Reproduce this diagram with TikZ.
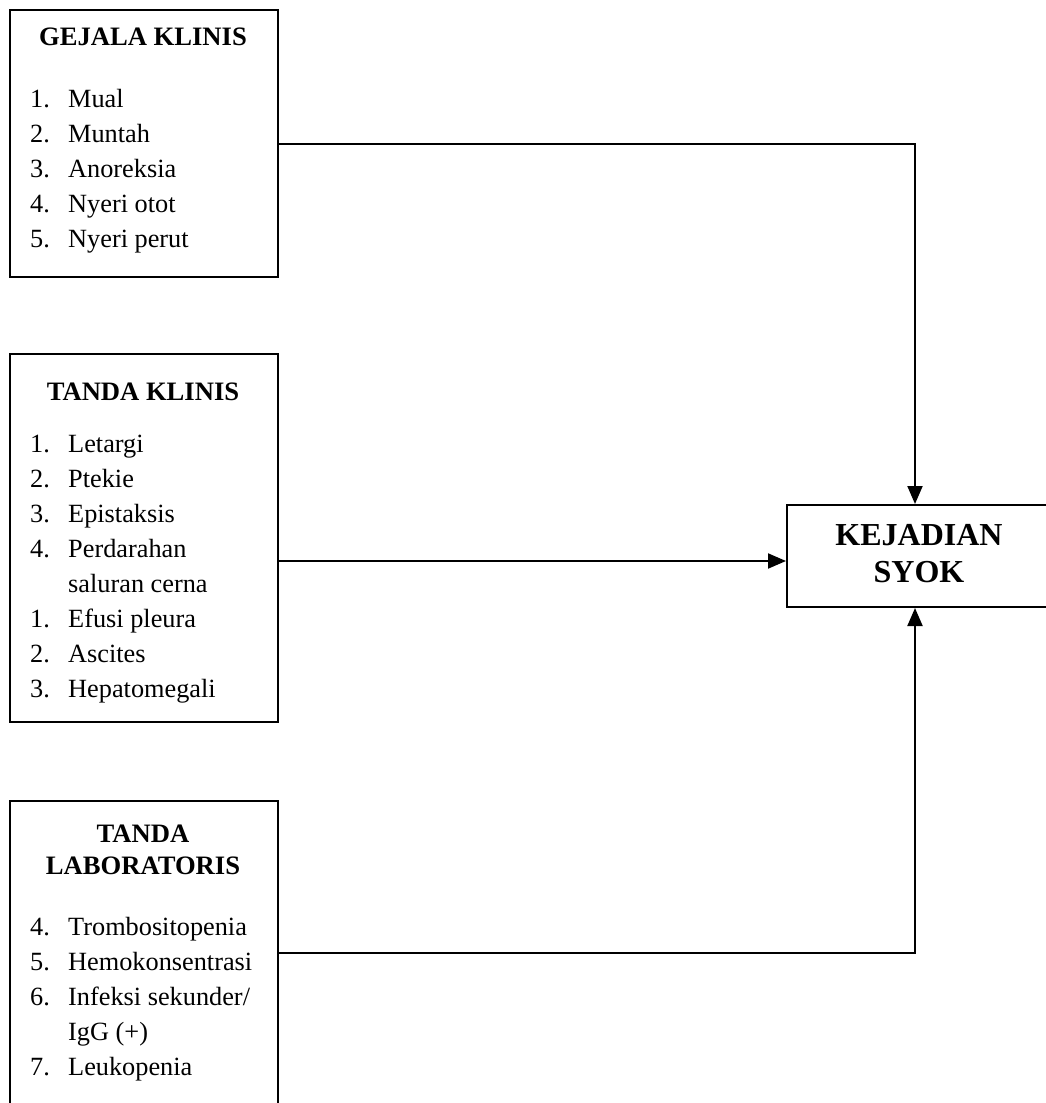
\documentclass[tikz,border=0pt]{standalone}
\usepackage{fontspec}
\setmainfont{Liberation Serif}
\usetikzlibrary{arrows.meta,calc}
\begin{document}
\begin{tikzpicture}[x=1pt,y=-1pt,
  box/.style={draw,line width=2pt,inner sep=0pt,anchor=north west},
  conn/.style={line width=2pt,-{Triangle[length=18pt,width=15pt]}},
  txt/.style={inner sep=0pt,anchor=base west,font=\fontsize{26.3}{34}\selectfont},
  head/.style={inner sep=0pt,anchor=base,font=\fontsize{26.6}{34}\selectfont\bfseries},
  big/.style={inner sep=0pt,anchor=base,font=\fontsize{32}{38}\selectfont\bfseries}]
\useasboundingbox[fill=white] (0,0) rectangle (1046,1103);
% boxes
\node[box,minimum width=268pt,minimum height=267pt] (g) at (9,9) {};
\node[box,minimum width=268pt,minimum height=368pt] (t) at (9,353) {};
\node[box,minimum width=268pt,minimum height=330pt] (l) at (9,800) {};
\node[box,minimum width=272pt,minimum height=102pt] (k) at (786,504) {};
% box 1
\node[head] (gh) at (143,45) {GEJALA KLINIS};
\foreach \n/\t [count=\i] in {1./Mual,2./Muntah,3./Anoreksia,4./Nyeri otot,5./Nyeri perut}{
  \node[txt] (gn\i) at (30,{107+35*(\i-1)}) {\n};
  \node[txt] (gi\i) at (68,{107+35*(\i-1)}) {\t};
}
% box 2
\node[head] (th) at (143,400) {TANDA KLINIS};
\foreach \n/\t [count=\i] in {1./Letargi,2./Ptekie,3./Epistaksis,4./Perdarahan,{}/saluran cerna,1./Efusi pleura,2./Ascites,3./Hepatomegali}{
  \node[txt] (tn\i) at (30,{452+35*(\i-1)}) {\n};
  \node[txt] (ti\i) at (68,{452+35*(\i-1)}) {\t};
}
% box 3
\node[head] (lh1) at (143,842) {TANDA};
\node[head] (lh2) at (143,874) {LABORATORIS};
\node[txt] (ln1) at (30,935) {4.};
\node[txt] (li1) at (68,935) {Trombositopenia};
\node[txt] (ln2) at (30,970) {5.};
\node[txt] (li2) at (68,970) {Hemokonsentrasi};
\node[txt] (ln3) at (30,1005) {6.};
\node[txt] (li3) at (68,1005) {Infeksi sekunder/};
\node[txt] (li4) at (68,1040) {IgG (+)};
\node[txt] (ln5) at (30,1075) {7.};
\node[txt] (li5) at (68,1075) {Leukopenia};
% outcome
\node[big] (k1) at (919,545) {KEJADIAN};
\node[big] (k2) at (919,582) {SYOK};
% connectors
\coordinate (kin) at ([yshift=-5pt]k.west);
\coordinate (kt) at ([xshift=-8pt]k.north);
\coordinate (kb) at ([xshift=-8pt]k.south);
\coordinate (lo) at ([yshift=13pt]l.east);
\draw[conn] (g.east) -| (kt);
\draw[conn] (kin -| t.east) -- (kin);
\draw[conn] (lo) -| (kb);
\end{tikzpicture}
\end{document}
